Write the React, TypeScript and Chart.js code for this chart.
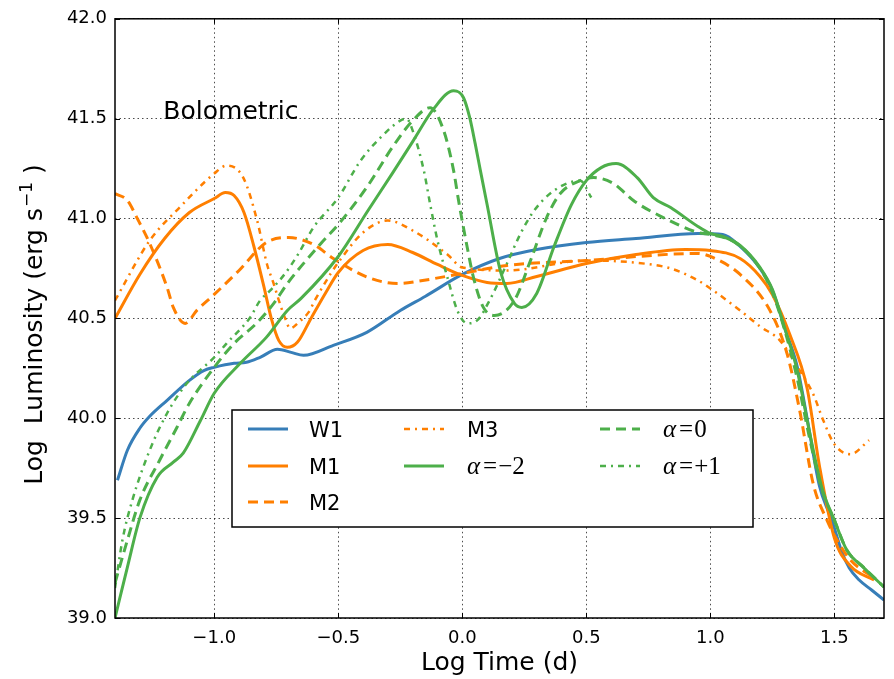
import React, { useEffect, useRef } from 'react';
import { Chart, registerables } from 'chart.js';

Chart.register(...registerables);

// ---------------- data ----------------
const xTicks = [-1.0, -0.5, 0.0, 0.5, 1.0, 1.5];
const yTicks = [39.0, 39.5, 40.0, 40.5, 41.0, 41.5, 42.0];
const xMin = -1.4;
const xMax = 1.7;
const yMin = 39.0;
const yMax = 42.0;

const xTitle = 'Log Time (d)';
const yTitleMain = 'Log  Luminosity (erg s';
const yTitleSup = '\u22121';
const yTitleEnd = ' )';
const annotation = 'Bolometric';
const annotationX = -1.205;
const annotationY = 41.5;

const seriesLabels = ['W1', 'M1', 'M2', 'M3', '\u03b1=\u22122', '\u03b1=0', '\u03b1=+1'];

const w1X = [-1.39, -1.35, -1.3, -1.26, -1.19, -1.1, -1.04, -1.0, -0.92, -0.87, -0.815, -0.745, -0.69, -0.64, -0.52, -0.385, -0.25, -0.15, 0.0, 0.15, 0.3, 0.5, 0.7, 0.95, 1.05, 1.12, 1.2, 1.25, 1.3, 1.35, 1.39, 1.44, 1.48, 1.5, 1.53, 1.56, 1.6, 1.65, 1.7];
const w1Y = [39.69, 39.84, 39.95, 40.01, 40.09, 40.19, 40.24, 40.255, 40.275, 40.28, 40.305, 40.345, 40.33, 40.315, 40.365, 40.43, 40.54, 40.61, 40.72, 40.8, 40.845, 40.88, 40.9, 40.925, 40.92, 40.86, 40.75, 40.64, 40.45, 40.26, 40.0, 39.66, 39.52, 39.45, 39.33, 39.25, 39.19, 39.14, 39.09];

const m1X = [-1.4, -1.3, -1.2, -1.1, -1.0, -0.955, -0.92, -0.88, -0.84, -0.8, -0.77, -0.74, -0.705, -0.665, -0.61, -0.55, -0.5, -0.4, -0.3, -0.2, -0.1, 0.0, 0.1, 0.18, 0.3, 0.5, 0.7, 0.9, 1.0, 1.12, 1.2, 1.25, 1.32, 1.39, 1.44, 1.5, 1.565, 1.66];
const m1Y = [40.5, 40.72, 40.9, 41.03, 41.1, 41.13, 41.115, 41.03, 40.86, 40.66, 40.5, 40.39, 40.355, 40.38, 40.5, 40.63, 40.73, 40.84, 40.87, 40.83, 40.77, 40.715, 40.68, 40.675, 40.71, 40.775, 40.82, 40.845, 40.84, 40.8, 40.71, 40.62, 40.42, 40.15, 39.76, 39.4, 39.26, 39.19];

const m2X = [-1.4, -1.35, -1.31, -1.26, -1.19, -1.165, -1.117, -1.07, -1.0, -0.9, -0.79, -0.7, -0.6, -0.52, -0.38, -0.26, -0.16, 0.0, 0.18, 0.5, 0.95, 1.0, 1.12, 1.24, 1.31, 1.36, 1.415, 1.47, 1.52, 1.565, 1.66];
const m2Y = [41.125, 41.09, 41.0, 40.875, 40.655, 40.555, 40.475, 40.54, 40.62, 40.74, 40.88, 40.905, 40.87, 40.8, 40.705, 40.675, 40.69, 40.725, 40.765, 40.79, 40.825, 40.81, 40.72, 40.54, 40.32, 40.04, 39.67, 39.49, 39.37, 39.29, 39.2];

const m3X = [-1.4, -1.26, -1.14, -1.0, -0.95, -0.883, -0.827, -0.787, -0.762, -0.742, -0.714, -0.694, -0.66, -0.62, -0.59, -0.53, -0.5, -0.4, -0.3, -0.2, -0.06, 0.0, 0.18, 0.5, 0.69, 0.84, 0.95, 1.0, 1.12, 1.2, 1.28, 1.36, 1.415, 1.455, 1.5, 1.565, 1.64];
const m3Y = [40.59, 40.89, 41.055, 41.225, 41.265, 41.205, 40.99, 40.77, 40.68, 40.6, 40.5, 40.45, 40.48, 40.53, 40.6, 40.725, 40.78, 40.93, 40.99, 40.94, 40.82, 40.755, 40.74, 40.79, 40.78, 40.75, 40.69, 40.65, 40.54, 40.46, 40.39, 40.24, 40.12, 39.99, 39.87, 39.82, 39.89];

const aNeg2X = [-1.4, -1.35, -1.3, -1.23, -1.165, -1.125, -1.055, -1.0, -0.895, -0.79, -0.705, -0.65, -0.5, -0.38, -0.28, -0.2, -0.115, -0.035, 0.005, 0.03, 0.052, 0.073, 0.1, 0.155, 0.21, 0.24, 0.3, 0.37, 0.44, 0.5, 0.56, 0.62, 0.705, 0.77, 0.84, 0.95, 1.0, 1.05, 1.12, 1.2, 1.25, 1.3, 1.35, 1.4, 1.45, 1.5, 1.55, 1.62, 1.7];
const aNeg2Y = [39.0, 39.255, 39.5, 39.705, 39.78, 39.825, 39.99, 40.125, 40.275, 40.405, 40.54, 40.6, 40.81, 41.04, 41.23, 41.385, 41.55, 41.64, 41.605, 41.505, 41.375, 41.24, 41.07, 40.73, 40.575, 40.555, 40.625, 40.86, 41.07, 41.19, 41.255, 41.275, 41.205, 41.105, 41.055, 40.96, 40.925, 40.91, 40.865, 40.755, 40.645, 40.45, 40.24, 39.93, 39.65, 39.49, 39.34, 39.25, 39.155];

const a0X = [-1.4, -1.35, -1.3, -1.22, -1.15, -1.1, -1.0, -0.92, -0.83, -0.76, -0.705, -0.57, -0.49, -0.383, -0.28, -0.2, -0.13, -0.075, -0.035, -0.015, 0.02, 0.045, 0.085, 0.13, 0.21, 0.275, 0.34, 0.395, 0.475, 0.53, 0.61, 0.69, 0.81, 0.95, 1.0, 1.1, 1.2, 1.25, 1.3, 1.35, 1.4, 1.45, 1.5, 1.55, 1.617, 1.7];
const a0Y = [39.175, 39.39, 39.59, 39.79, 39.955, 40.075, 40.255, 40.375, 40.475, 40.575, 40.675, 40.875, 40.985, 41.16, 41.36, 41.49, 41.555, 41.44, 41.24, 41.09, 40.855, 40.705, 40.555, 40.515, 40.59, 40.79, 41.005, 41.125, 41.19, 41.205, 41.175, 41.09, 41.005, 40.93, 40.92, 40.88, 40.75, 40.63, 40.44, 40.2, 39.9, 39.64, 39.49, 39.34, 39.255, 39.155];

const a1X = [-1.4, -1.37, -1.33, -1.26, -1.19, -1.11, -1.0, -0.95, -0.855, -0.815, -0.774, -0.714, -0.66, -0.6, -0.5, -0.41, -0.33, -0.25, -0.225, -0.2, -0.155, -0.13, -0.1, -0.06, -0.02, 0.02, 0.06, 0.11, 0.18, 0.235, 0.29, 0.37, 0.475, 0.52];
const a1Y = [39.15, 39.39, 39.59, 39.84, 40.025, 40.175, 40.305, 40.375, 40.505, 40.59, 40.64, 40.725, 40.825, 40.955, 41.105, 41.29, 41.405, 41.49, 41.5, 41.44, 41.24, 41.075, 40.89, 40.705, 40.54, 40.475, 40.49, 40.59, 40.775, 40.925, 41.04, 41.14, 41.19, 41.105];

// ---------------- styles ----------------
const BLUE = '#377eb8';
const ORANGE = '#ff7f00';
const GREEN = '#4daf4a';
const DASHED = [10, 6];
const DASHDOT = [6, 5, 2, 5];

const seriesXs = [w1X, m1X, m2X, m3X, aNeg2X, a0X, a1X];
const seriesYs = [w1Y, m1Y, m2Y, m3Y, aNeg2Y, a0Y, a1Y];
const seriesColors = [BLUE, ORANGE, ORANGE, ORANGE, GREEN, GREEN, GREEN];
const seriesDashes = [[], [], DASHED, DASHDOT, [], DASHED, DASHDOT];
const seriesWidths = [3, 3, 3, 2.5, 3, 3, 2.5];
// legend placement (column, row)
const legendCols = [0, 0, 0, 1, 1, 2, 2];
const legendRows = [0, 1, 2, 0, 1, 0, 1];

const SANS = '"DejaVu Sans", sans-serif';
const SERIF = '"Liberation Serif", "DejaVu Serif", serif';

const fmt = (v: number) => (v < 0 ? '\u2212' : '') + Math.abs(v).toFixed(1);

const decorPlugin = {
  id: 'decor',
  afterDraw(chart: any) {
    const { ctx, chartArea: a, scales } = chart;
    const xs = scales.x;
    const ys = scales.y;
    ctx.save();
    ctx.fillStyle = '#000';
    ctx.strokeStyle = '#000';
    ctx.setLineDash([]);

    // frame
    ctx.lineWidth = 1.5;
    ctx.strokeRect(a.left, a.top, a.right - a.left, a.bottom - a.top);

    // inward ticks on all sides
    ctx.lineWidth = 1;
    const seg = (x1: number, y1: number, x2: number, y2: number) => {
      ctx.beginPath();
      ctx.moveTo(x1, y1);
      ctx.lineTo(x2, y2);
      ctx.stroke();
    };
    for (const v of xTicks) {
      const p = Math.round(xs.getPixelForValue(v)) + 0.5;
      seg(p, a.bottom, p, a.bottom - 5);
      seg(p, a.top, p, a.top + 5);
    }
    for (const v of yTicks) {
      const p = Math.round(ys.getPixelForValue(v)) + 0.5;
      seg(a.left, p, a.left + 5, p);
      seg(a.right, p, a.right - 5, p);
    }

    // annotation
    ctx.font = `25px ${SANS}`;
    ctx.textAlign = 'left';
    ctx.textBaseline = 'alphabetic';
    ctx.fillText(annotation, xs.getPixelForValue(annotationX), ys.getPixelForValue(annotationY));

    // x title
    ctx.textAlign = 'center';
    ctx.fillText(xTitle, (a.left + a.right) / 2, 670);

    // y title (rotated, with superscript)
    ctx.save();
    ctx.translate(42, 325);
    ctx.rotate(-Math.PI / 2);
    ctx.textAlign = 'left';
    ctx.font = `25px ${SANS}`;
    const w1 = ctx.measureText(yTitleMain).width;
    const w3 = ctx.measureText(yTitleEnd).width;
    ctx.font = `17px ${SANS}`;
    const w2 = ctx.measureText(yTitleSup).width;
    let tx = -(w1 + w2 + w3) / 2;
    ctx.font = `25px ${SANS}`;
    ctx.fillText(yTitleMain, tx, 0);
    tx += w1 + 1;
    ctx.font = `17px ${SANS}`;
    ctx.fillText(yTitleSup, tx, -10);
    tx += w2;
    ctx.font = `25px ${SANS}`;
    ctx.fillText(yTitleEnd, tx, 0);
    ctx.restore();

    // legend box
    const bx = 232, by = 410, bw = 521, bh = 117;
    ctx.fillStyle = '#fff';
    ctx.fillRect(bx, by, bw, bh);
    ctx.lineWidth = 1.5;
    ctx.strokeStyle = '#000';
    ctx.strokeRect(bx, by, bw, bh);

    const colLineX = [248, 404, 600];
    const colTextX = [309, 467, 663];
    const rowY = [429, 466, 502];
    const lineLen = 40;
    for (let i = 0; i < seriesLabels.length; i++) {
      const c = legendCols[i];
      const r = legendRows[i];
      const y = rowY[r];
      ctx.save();
      ctx.strokeStyle = seriesColors[i];
      ctx.lineWidth = seriesWidths[i];
      ctx.setLineDash(seriesDashes[i]);
      ctx.beginPath();
      ctx.moveTo(colLineX[c], y);
      ctx.lineTo(colLineX[c] + lineLen, y);
      ctx.stroke();
      ctx.restore();

      const label = seriesLabels[i];
      ctx.fillStyle = '#000';
      ctx.textAlign = 'left';
      ctx.textBaseline = 'alphabetic';
      if (label.startsWith('\u03b1')) {
        let x = colTextX[c];
        const base = y + 8;
        ctx.font = `italic 25px ${SERIF}`;
        ctx.fillText('\u03b1', x, base);
        x += ctx.measureText('\u03b1').width + 3;
        ctx.font = `25px ${SERIF}`;
        ctx.fillText('=', x, base);
        x += ctx.measureText('=').width + 1;
        ctx.fillText(label.slice(2), x, base);
      } else {
        ctx.font = `21px ${SANS}`;
        ctx.fillText(label, colTextX[c], y + 8);
      }
    }
    ctx.restore();
  },
};

export default function App() {
  const canvasRef = useRef<HTMLCanvasElement | null>(null);

  useEffect(() => {
    if (!canvasRef.current) return;
    const n = seriesLabels.length;
    const datasets = seriesLabels.map((label, i) => ({
      label,
      data: seriesXs[i].map((x, j) => ({ x, y: seriesYs[i][j] })),
      borderColor: seriesColors[i],
      backgroundColor: seriesColors[i],
      borderWidth: seriesWidths[i],
      borderDash: seriesDashes[i],
      pointRadius: 0,
      fill: false,
      cubicInterpolationMode: 'monotone' as const,
      order: n - i,
    }));

    const chart = new Chart(canvasRef.current, {
      type: 'line',
      data: { datasets },
      options: {
        responsive: false,
        animation: false,
        devicePixelRatio: 1,
        layout: { padding: { top: 18, right: 10, left: 0, bottom: 0 } },
        plugins: {
          legend: { display: false },
          tooltip: { enabled: false },
          title: { display: false },
        },
        scales: {
          x: {
            type: 'linear',
            min: xMin,
            max: xMax,
            afterBuildTicks: (s: any) => {
              s.ticks = xTicks.map((v) => ({ value: v }));
            },
            afterFit: (s: any) => {
              s.height = 61;
            },
            grid: { color: 'rgba(0,0,0,0.7)', lineWidth: 1, drawTicks: false },
            border: { display: false, dash: [1.5, 3] },
            ticks: {
              padding: 10,
              color: '#000',
              maxRotation: 0,
              autoSkip: false,
              font: { family: SANS, size: 18 },
              callback: (v: any) => fmt(Number(v)),
            },
          },
          y: {
            type: 'linear',
            min: yMin,
            max: yMax,
            afterBuildTicks: (s: any) => {
              s.ticks = yTicks.map((v) => ({ value: v }));
            },
            afterFit: (s: any) => {
              s.width = 115;
            },
            grid: { color: 'rgba(0,0,0,0.7)', lineWidth: 1, drawTicks: false },
            border: { display: false, dash: [1.5, 3] },
            ticks: {
              padding: 8,
              color: '#000',
              autoSkip: false,
              font: { family: SANS, size: 18 },
              callback: (v: any) => Number(v).toFixed(1),
            },
          },
        },
      },
      plugins: [decorPlugin],
    });
    return () => chart.destroy();
  }, []);

  return (
    <div style={{ position: 'absolute', left: 0, top: 0, width: 894, height: 679, background: '#fff' }}>
      <canvas ref={canvasRef} width={894} height={679} />
    </div>
  );
}
